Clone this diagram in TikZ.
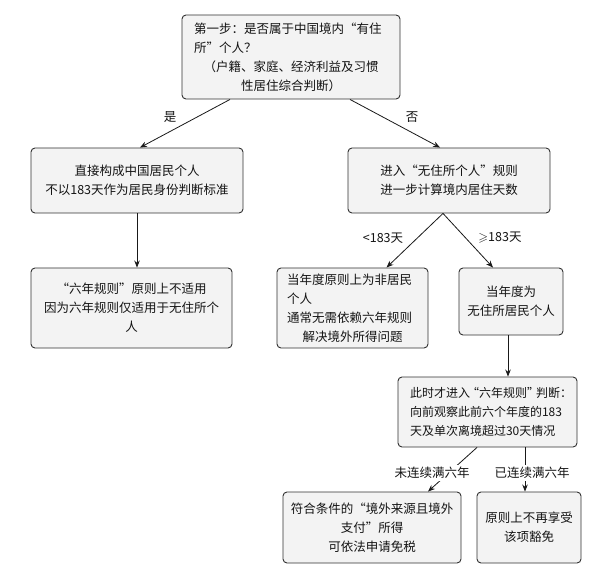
\documentclass[tikz,border=0pt]{standalone}
\usepackage{amssymb}
\usepackage{fontspec}
\setmainfont{Noto Sans CJK SC}
\usetikzlibrary{arrows.meta,calc}
\definecolor{boxfill}{RGB}{243,243,243}
\definecolor{boxline}{RGB}{50,50,50}
\definecolor{arrcol}{RGB}{25,25,25}
\definecolor{txtcol}{RGB}{20,20,20}
\tikzset{
  box/.style={draw=boxline, fill=boxfill, rounded corners=4pt, line width=0.9pt,
    inner sep=0pt, text=txtcol, font=\fontsize{12.5}{19}\selectfont},
  arr/.style={draw=arrcol, line width=0.8pt, -{Stealth[length=7pt,width=5.5pt]}},
  lbl/.style={inner sep=1pt, text=txtcol, font=\fontsize{12.5}{14}\selectfont},
  lblw/.style={lbl, fill=white, inner sep=2pt}
}
\begin{document}
\begin{tikzpicture}[x=1pt,y=-1pt]
\useasboundingbox[fill=white] (0,0) rectangle (594,585);
\node[box, minimum width=218pt, minimum height=84pt, text width=194pt, align=left] (b1) at (291,57)
  {第一步：是否属于中国境内“有住\\所”个人？\\\makebox[\linewidth]{（户籍、家庭、经济利益及习惯}\\\makebox[\linewidth]{性居住综合判断）}};
\node[box, minimum width=212pt, minimum height=65pt, align=center] (b2) at (137,180.5)
  {直接构成中国居民个人\\不以183天作为居民身份判断标准};
\node[box, minimum width=202pt, minimum height=65pt, align=center] (b3) at (449,180.5)
  {进入“无住所个人”规则\\进一步计算境内居住天数};
\node[box, minimum width=201pt, minimum height=80pt, align=center] (b4) at (131.5,308)
  {“六年规则”原则上不适用\\因为六年规则仅适用于无住所个\\人};
\node[box, minimum width=151pt, minimum height=80pt, text width=131pt, align=left] (b5) at (352.5,308)
  {当年度原则上为非居民\\个人\\通常无需依赖六年规则\\\makebox[\linewidth]{解决境外所得问题}};
\node[box, minimum width=104pt, minimum height=67pt, align=center] (b6) at (511,301.5)
  {当年度为\\无住所居民个人};
\node[box, minimum width=179pt, minimum height=70pt, text width=155pt, align=left,
  font=\fontsize{12}{19}\selectfont] (b7) at (487.5,412)
  {此时才进入\kern-3pt“六年规则”\kern-3pt判断：\\向前观察此前六个年度的183\\天及单次离境超过30天情况};
\node[box, minimum width=178pt, minimum height=71pt, align=center] (b8) at (372,527.5)
  {符合条件的“境外来源且境外\\支付”所得\\可依法申请免税};
\node[box, minimum width=104pt, minimum height=71pt, align=center] (b9) at (529,527.5)
  {原则上不再享受\\该项豁免};
% connectors
\draw[arr] ([xshift=-61pt]b1.south) -- ([xshift=3pt]b2.north);
\draw[arr] ([xshift=59pt]b1.south) -- ([xshift=-9pt]b3.north);
\draw[arr] (b2.south) -- (b2.south |- b4.north);
\draw[arr] ([xshift=-6pt]b3.south) -- ([xshift=34pt]b5.north);
\draw[arr] ([xshift=-6pt]b3.south) -- ([xshift=-18pt]b6.north);
\draw[arr] ([xshift=-3pt]b6.south) -- ([xshift=-3pt]b6.south |- b7.north);
\draw[arr] ([xshift=-10.5pt]b7.south) -- ([xshift=56pt]b8.north);
\draw[arr] ([xshift=37.5pt]b7.south) -- ([xshift=37.5pt]b7.south |- b9.north);
% labels
\node[lbl] (lyes) at (170,117) {是};
\node[lbl] (lno) at (412,117) {否};
\node[lbl] (llt) at (383,238) {<183天};
\node[lbl] (lge) at (500,238) {$\geqslant$183天};
\node[lblw] (lnot) at (432,473) {未连续满六年};
\node[lblw] (lfull) at (532,473) {已连续满六年};
\end{tikzpicture}
\end{document}
